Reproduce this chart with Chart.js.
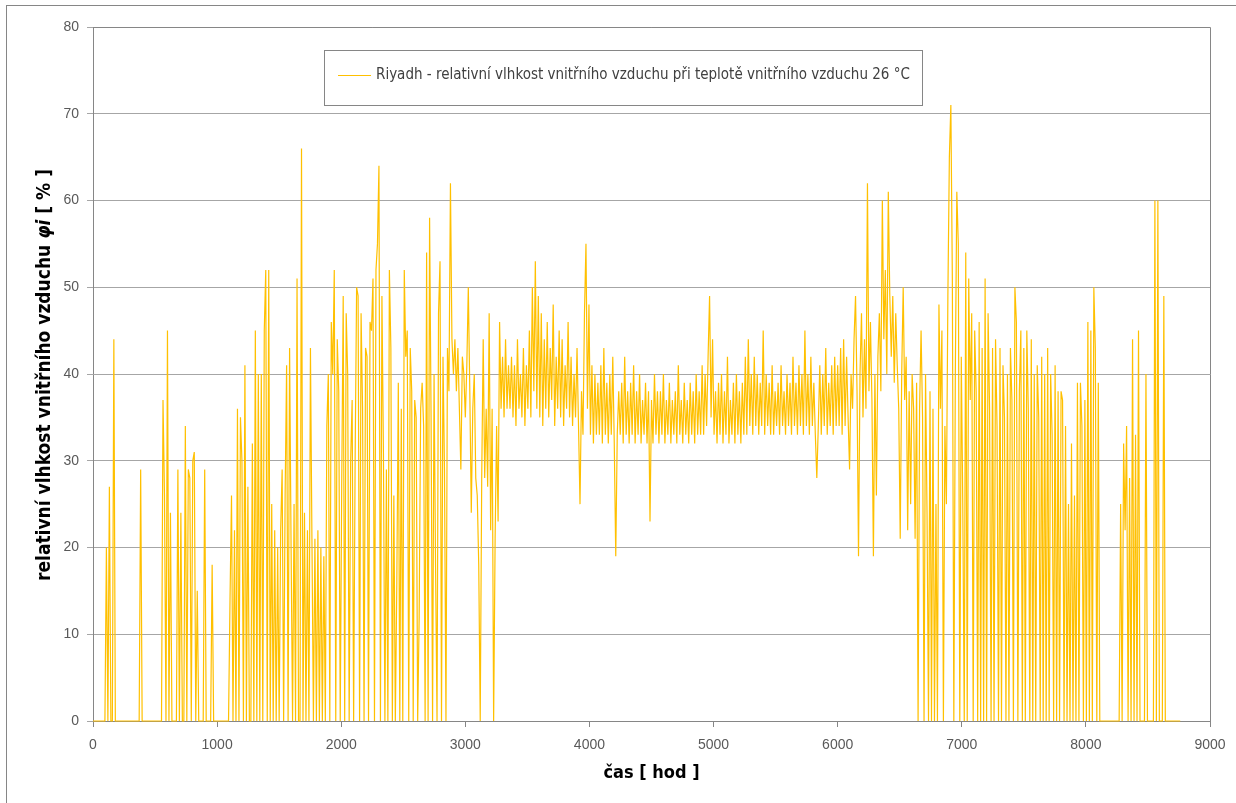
<!DOCTYPE html>
<html>
<head>
<meta charset="utf-8">
<script src="https://cdn.jsdelivr.net/npm/chart.js@4"></script>
<style>
  html, body { margin: 0; padding: 0; background: #fff; }
  #graf { display: block; }
</style>
</head>
<body>
<canvas id="graf" width="1236" height="803"></canvas>
<script>
// hodnoty, krok 12 h (0 - 8760 h)
const krok = 12;

// leden - duben (0 - 3348 h)
const vlhkostJaro = [
  0,0,0,0,0,0,0,0,0,20,0,27,0,0,44,0,0,0,0,0,
  0,0,0,0,0,0,0,0,0,0,0,0,29,0,0,0,0,0,0,0,
  0,0,0,0,0,0,0,37,26,0,45,0,24,0,0,0,0,29,0,24,
  0,0,34,0,29,28,0,30,31,0,15,0,0,0,0,29,0,0,0,0,
  18,0,0,0,0,0,0,0,0,0,0,0,14,26,0,22,0,36,0,35,
  30,0,41,0,27,0,0,32,0,45,0,40,0,40,0,45,52,0,52,0,
  25,0,22,0,20,0,22,29,0,26,41,0,43,20,0,25,0,51,0,0,
  66,0,24,0,22,0,43,21,0,21,0,22,0,20,0,19,0,34,40,0,
  46,40,52,0,44,38,0,27,49,0,47,40,0,30,37,0,30,50,49,0,
  47,36,0,43,42,0,46,45,51,0,52,55,64,0,49,31,0,29,0,52,
  43,0,26,0,16,39,0,36,0,52,42,45,0,43,38,0,37,35,0,12,
  36,39,34,0,54,0,58,35,0,40,18,0,47,53,0,42,29,0,43,38,
  62,44,40,44,38,43,36,29,42,40,35,41,50,38,24,36,40,28,26,18,
  0,28,44,28,36,27,47,22,36,0,21,34,23,46,36,42,35,44,36,41
];

// květen - září (3360 - 6708 h)
const vlhkostLeto = [
  36,42,35,41,34,44,36,40,35,43,34,41,36,45,35,50,38,53,36,49,
  35,47,34,44,36,46,35,43,37,48,34,42,36,45,35,44,34,41,36,46,
  35,42,34,40,35,43,34,25,38,33,47,55,36,48,33,41,32,40,33,39,
  33,41,32,43,33,39,32,40,33,42,32,19,33,38,33,39,32,42,33,38,
  32,39,33,41,32,38,33,40,32,37,33,39,32,38,23,37,32,40,33,38,
  32,38,33,40,32,37,33,39,32,37,33,38,32,41,33,37,32,39,33,37,
  32,39,33,38,32,40,33,38,33,41,33,40,34,42,49,35,44,33,38,32,
  39,33,40,32,38,33,42,32,37,33,39,32,40,33,38,32,39,33,42,33,
  44,34,40,33,42,34,40,33,39,34,45,33,40,34,39,33,41,33,38,34,
  39,33,41,34,38,33,40,34,39,33,42,34,39,33,41,34,40,33,45,34,
  40,33,42,34,39,33,28,34,41,33,40,34,43,33,39,34,41,33,42,34,
  41,34,43,33,44,34,42,35,29,40,36,44,49,38,19,40,47,35,44,36,
  62,38,46,37,19,40,26,42,47,38,60,44,52,40,61,49,42,49,39,47,
  41,36,21,40,50,37,42,22,38,25,40,36,21,39,0,36,45,35,0,40
];

// říjen - prosinec (6720 - 8760 h)
const vlhkostPodzim = [
  24,0,38,0,36,0,25,0,48,36,45,0,34,25,49,65,71,51,0,40,
  61,55,0,42,25,0,54,0,51,37,47,0,45,38,0,46,0,43,0,51,
  0,47,36,0,43,0,44,34,0,43,0,41,35,0,40,0,43,37,0,50,
  46,0,38,45,0,43,0,45,36,0,44,0,40,0,41,35,0,42,0,40,
  0,43,0,40,33,0,41,0,38,0,38,37,0,34,0,25,0,32,0,26,
  0,39,0,39,34,0,37,0,46,0,45,0,50,43,0,39,0,0,0,0,
  0,0,0,0,0,0,0,0,0,0,25,0,32,22,34,0,28,0,44,0,
  33,0,45,0,0,0,0,40,0,0,0,0,0,60,0,60,0,0,0,49,
  0,0,0,0,0,0,0,0,0,0,0
];

const popisRady = "Riyadh - relativní vlhkost vnitřního vzduchu při teplotě vnitřního vzduchu 26 °C";
const popisX = "čas [ hod ]";
const popisY = ["relativní vlhkost vnitřního vzduchu ", "φi", " [ % ]"];

const vlhkost = [...vlhkostJaro, ...vlhkostLeto, ...vlhkostPodzim];
const body = vlhkost.map((v, i) => ({ x: i * krok, y: v }));

const barva = "#FFC000";
const pismo = "'Liberation Sans Narrow', 'DejaVu Sans Condensed', 'Liberation Sans', sans-serif";
const pismoOsy = "'Liberation Sans', sans-serif";

// rámečky, legenda a popisy os
const doplnky = {
  id: "doplnky",
  afterDraw(chart) {
    const ctx = chart.ctx;
    const a = chart.chartArea;
    ctx.save();

    // vnější rámeček
    ctx.strokeStyle = "#868686";
    ctx.lineWidth = 1;
    ctx.strokeRect(6.5, 5.5, 1300, 900);

    // horní a pravý okraj plochy grafu
    ctx.beginPath();
    ctx.moveTo(a.left, a.top + 0.5);
    ctx.lineTo(a.right + 0.5, a.top + 0.5);
    ctx.lineTo(a.right + 0.5, a.bottom);
    ctx.stroke();

    // legenda
    ctx.fillStyle = "#fff";
    ctx.fillRect(324.5, 50.5, 598, 55);
    ctx.strokeRect(324.5, 50.5, 598, 55);
    ctx.strokeStyle = barva;
    ctx.beginPath();
    ctx.moveTo(338, 75.5);
    ctx.lineTo(371, 75.5);
    ctx.stroke();
    ctx.fillStyle = "#404040";
    ctx.font = "15px " + pismo;
    ctx.textBaseline = "middle";
    ctx.fillText(popisRady, 376, 75);

    // popis osy x
    ctx.fillStyle = "#000";
    ctx.font = "bold 18px " + pismo;
    ctx.textAlign = "center";
    ctx.fillText(popisX, (a.left + a.right) / 2, 773);

    // popis osy y (φi kurzívou)
    ctx.translate(45, 375);
    ctx.rotate(-Math.PI / 2);
    ctx.textAlign = "left";
    const styly = ["bold 19px ", "italic bold 19px ", "bold 19px "];
    let sirka = 0;
    popisY.forEach((t, i) => { ctx.font = styly[i] + pismo; sirka += ctx.measureText(t).width; });
    let x = -sirka / 2;
    popisY.forEach((t, i) => {
      ctx.font = styly[i] + pismo;
      ctx.fillText(t, x, 0);
      x += ctx.measureText(t).width;
    });
    ctx.restore();
  }
};

const graf = new Chart(document.getElementById("graf"), {
  type: "line",
  data: {
    datasets: [
      {
        label: popisRady,
        data: body,
        borderColor: barva,
        borderWidth: 1.2,
        pointRadius: 0,
        tension: 0,
        clip: 2,
      },
    ],
  },
  options: {
    responsive: false,
    animation: false,
    layout: { padding: { top: 27, right: 26, left: 0, bottom: 0 } },
    plugins: { legend: { display: false }, tooltip: { enabled: false } },
    scales: {
      x: {
        type: "linear",
        min: 0,
        max: 9000,
        ticks: {
          stepSize: 1000,
          color: "#595959",
          font: { size: 14, family: pismoOsy },
          padding: 10,
          maxRotation: 0,
          callback: (v) => String(v),
        },
        grid: { drawOnChartArea: false, color: "#868686", tickLength: 6 },
        border: { color: "#868686" },
        afterFit: (s) => { s.height = 82; },
      },
      y: {
        min: 0,
        max: 80,
        ticks: { stepSize: 10, color: "#595959", font: { size: 14, family: pismoOsy }, padding: 8 },
        grid: { color: "#A6A6A6", tickLength: 6 },
        border: { color: "#868686" },
        afterFit: (s) => { s.width = 93; },
      },
    },
  },
  plugins: [doplnky],
});
</script>
</body>
</html>
